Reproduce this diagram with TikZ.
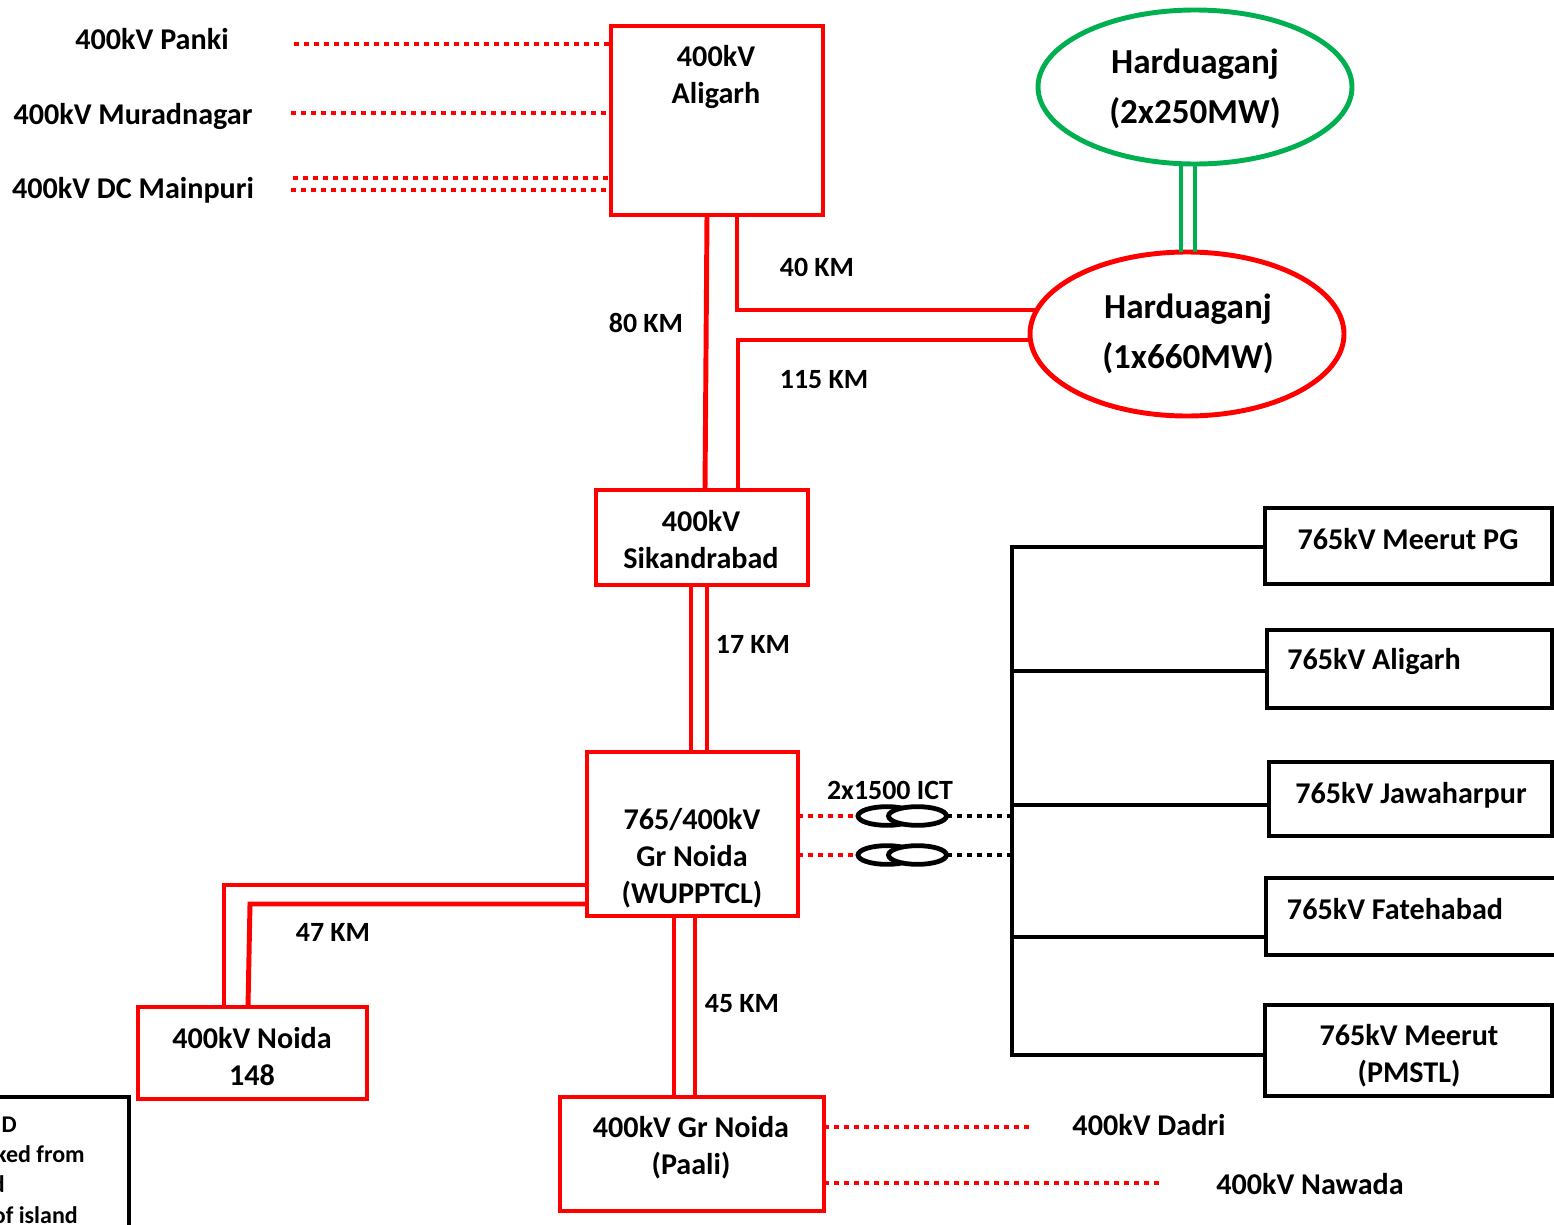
\documentclass[tikz,border=0pt]{standalone}
\usepackage{fontspec}
\setmainfont{Carlito}
\usetikzlibrary{shapes.geometric}
\definecolor{hgreen}{HTML}{00B050}
\tikzset{
 x=0.75pt,y=-0.75pt,
 redbox/.style={draw=red,line width=3.7pt,rectangle,inner sep=0pt,outer sep=0pt},
 blackbox/.style={draw=black,line width=3.7pt,rectangle,inner sep=0pt,outer sep=0pt},
 lab/.style={font=\fontsize{22.6}{27.75}\selectfont\bfseries,align=center,inner sep=0pt,text=black},
 biglab/.style={font=\fontsize{26.3}{37}\selectfont\bfseries,align=center,inner sep=0pt,text=black},
 small/.style={font=\fontsize{20.9}{22.5}\selectfont\bfseries,inner sep=0pt,text=black},
 legendtext/.style={font=\fontsize{18}{22.5}\selectfont\bfseries,inner sep=0pt,text=black,anchor=base east},
 redline/.style={draw=red,line width=3.7pt},
 greenline/.style={draw=hgreen,line width=3.7pt},
 blackline/.style={draw=black,line width=3.6pt},
 reddot/.style={draw=red,line width=3.7pt,dash pattern=on 3.75pt off 3.75pt},
 blackdot/.style={draw=black,line width=3.7pt,dash pattern=on 3.75pt off 3.75pt},
 ictcoil/.style={draw=black,fill=white,line width=3.6pt,ellipse,inner sep=0pt,outer sep=0pt,minimum width=43.5pt,minimum height=14pt},
}
\newcommand{\rbox}[5]{\node[redbox,minimum width=#4*0.75pt,minimum height=#5*0.75pt] (#1) at (#2,#3) {};}
\newcommand{\kbox}[5]{\node[blackbox,minimum width=#4*0.75pt,minimum height=#5*0.75pt] (#1) at (#2,#3) {};}
\begin{document}
\begin{tikzpicture}
\useasboundingbox (0,0) rectangle (1554,1225);
\begin{scope}
\clip (0,0) rectangle (1554,1225);
% boxes
\rbox{ali}{717}{120.5}{212}{189}
\rbox{sik}{702}{537.5}{212}{95}
\rbox{gr}{692.5}{834}{211}{164}
\rbox{noi}{252.5}{1053}{229}{92}
\rbox{paa}{692}{1154}{264}{114}
\kbox{mpg}{1408.5}{546}{287}{76}
\kbox{mal}{1409.5}{669}{285}{78}
\kbox{jaw}{1410.5}{799}{283}{74}
\kbox{fat}{1411}{916.5}{290}{77}
\kbox{pms}{1408.5}{1050.5}{287}{91}
\kbox{leg}{59.5}{1220}{139}{246}
% ellipses
\node[draw=hgreen,line width=3.7pt,ellipse,inner sep=0pt,outer sep=0pt,minimum width=235.5pt,minimum height=115.5pt] (hg) at (1195,87) {};
\node[draw=red,line width=3.7pt,ellipse,inner sep=0pt,outer sep=0pt,minimum width=235.5pt,minimum height=123pt] (hr) at (1187,334) {};
% green links
\draw[greenline] (hg.south -| 1181,0) -- (hr.north -| 1181,0);
\draw[greenline] (hg.south -| 1195,0) -- (hr.north -| 1195,0);
% red links
\draw[redline] (ali.south -| 707,0) -- (sik.north -| 705,0);
\draw[redline] (ali.south -| 737,0) -- (737,310) -- (hr.171 |- 0,310);
\draw[redline] (sik.north -| 738,0) -- (738,340) -- (hr.west |- 0,340);
\draw[redline] (sik.south -| 691,0) -- (gr.north -| 691,0);
\draw[redline] (sik.south -| 707,0) -- (gr.north -| 707,0);
\draw[redline] (gr.west |- 0,885) -- (224,885) -- (noi.north -| 224,0);
\draw[redline] (gr.west |- 0,904) -- (250,904) -- (noi.north -| 248,0);
\draw[redline] (gr.south -| 674,0) -- (paa.north -| 674,0);
\draw[redline] (gr.south -| 695,0) -- (paa.north -| 695,0);
% black bus
\coordinate (bustop) at (1012,547);
\coordinate (busbot) at (1012,1055);
\draw[blackline,line cap=rect] (bustop) -- (busbot);
\draw[blackline] (bustop) -- (mpg.west |- bustop);
\draw[blackline] (bustop |- 0,671) -- (mal.west |- 0,671);
\draw[blackline] (bustop |- 0,805) -- (jaw.west |- 0,805);
\draw[blackline] (bustop |- 0,937) -- (fat.west |- 0,937);
\draw[blackline] (busbot) -- (pms.west |- busbot);
% dotted feeders
\coordinate (panki) at (294,44);
\coordinate (murad) at (291,113);
\coordinate (main1) at (293,178);
\coordinate (main2) at (291,190);
\coordinate (dadri) at (1030,1127);
\coordinate (nawada) at (1161,1183);
\draw[reddot] (panki) -- (ali.west |- panki);
\draw[reddot] (murad) -- (ali.west |- murad);
\draw[reddot] (main1) -- (ali.west |- main1);
\draw[reddot] (main2) -- (ali.west |- main2);
\draw[reddot] (paa.east |- dadri) -- (dadri);
\draw[reddot] (paa.east |- nawada) -- (nawada);
% ICT
\draw[reddot] (gr.east |- 0,816) -- (858,816);
\draw[reddot] (gr.east |- 0,855) -- (858,855);
\node[ictcoil] (t1a) at (887,816) {};
\node[ictcoil] (t1b) at (917.5,816) {};
\node[ictcoil] (t2a) at (887,855) {};
\node[ictcoil] (t2b) at (917.5,855) {};
\draw[blackdot] (t1b.east) -- (bustop |- t1b);
\draw[blackdot] (t2b.east) -- (bustop |- t2b);
% labels
\node[lab] (lpanki) at (152,39) {400kV Panki};
\node[lab] (lmurad) at (133,116) {400kV Muradnagar};
\node[lab] (lmain) at (133,190) {400kV DC Mainpuri};
\node[lab] (lali) at (716,77) {400kV\\Aligarh};
\node[lab] (lsik) at (701,540) {400kV\\Sikandrabad};
\node[lab] (lgr) at (692,858) {765/400kV\\Gr Noida\\(WUPPTCL)};
\node[lab] (lnoi) at (252,1057) {400kV Noida\\148};
\node[lab] (lpaa) at (691,1148) {400kV Gr Noida\\(Paali)};
\node[lab] (ldadri) at (1149,1125) {400kV Dadri};
\node[lab] (lnaw) at (1310,1184) {400kV Nawada};
\node[lab] (lmpg) at (1408,539) {765kV Meerut PG};
\node[lab] (lmal) at (1374,661) {765kV Aligarh};
\node[lab] (ljaw) at (1411,795) {765kV Jawaharpur};
\node[lab] (lfat) at (1395,909) {765kV Fatehabad};
\node[lab] (lpms) at (1409,1056) {765kV Meerut\\(PMSTL)};
\node[biglab] (lhg) at (1195,89) {Harduaganj\\(2x250MW)};
\node[biglab] (lhr) at (1188,334) {Harduaganj\\(1x660MW)};
\node[small] (k40) at (817,267) {40 KM};
\node[small] (k80) at (646,323) {80 KM};
\node[small] (k115) at (824,380) {115 KM};
\node[small] (k17) at (753,644) {17 KM};
\node[small] (k47) at (333,932) {47 KM};
\node[small] (k45) at (742,1004) {45 KM};
\node[small] (kict) at (890,790) {2x1500 ICT};
\node[legendtext] (l1) at (17,1132) {D};
\node[legendtext] (l2) at (85,1162) {ked from};
\node[legendtext] (l3) at (5,1192) {d};
\node[legendtext] (l4) at (78,1223) {of island};
\end{scope}
\end{tikzpicture}
\end{document}
